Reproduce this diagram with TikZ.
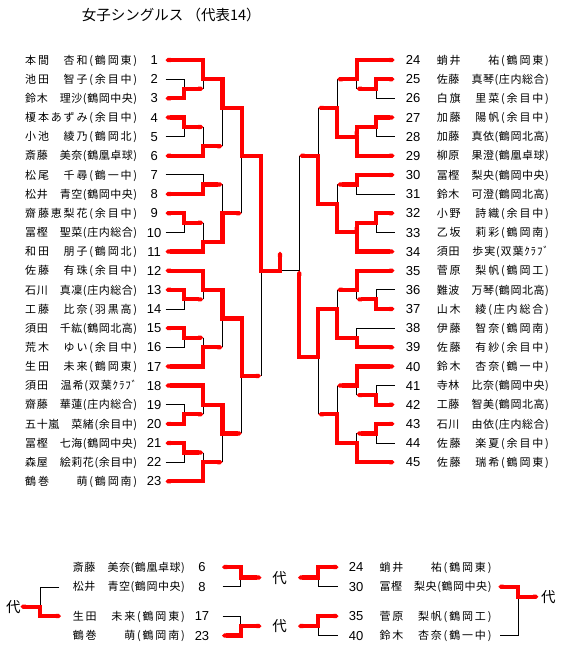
\documentclass[tikz,border=0pt]{standalone}
\usepackage{fontspec}
\usetikzlibrary{arrows.meta}
\newfontfamily\jpf{Noto Sans CJK JP}
\newfontfamily\numf{Liberation Sans}
\newcommand\distr[1]{\makebox[112pt][s]{\expandafter\distrA#1\relax}}
\def\distrA#1{#1\distrB}
\def\distrB#1{\ifx\relax#1\else\hfil#1\expandafter\distrB\fi}
\def\qLz{165.5}\def\qLa{184.3}\def\qLb{203.3}\def\qLc{222.5}\def\qLd{241.7}\def\qLe{261}\def\qLf{280}
\def\qRz{394.5}\def\qRa{376.3}\def\qRb{356.7}\def\qRc{337.3}\def\qRd{318.3}\def\qRe{299.3}
\tikzset{
 rd/.style={draw=red, line width=4.2pt, line join=miter, {Triangle Cap[]}-{Triangle Cap[]}},
 tn/.style={draw=black, line width=0.9pt},
 nm/.style={anchor=west, inner sep=0pt, text height=9.7pt, text depth=1.3pt, font=\jpf\fontsize{11pt}{13pt}\selectfont},
 nb/.style={anchor=center, inner sep=0pt, text height=9.3pt, text depth=0pt, font=\numf\fontsize{13pt}{15pt}\selectfont},
 dai/.style={anchor=center, inner sep=0pt, text height=12.8pt, text depth=1.7pt, font=\jpf\fontsize{14.5pt}{16pt}\selectfont},
}
\begin{document}
\begin{tikzpicture}[x=1pt,y=-1pt]
\fill[white] (0,0) rectangle (563,651);
\useasboundingbox (0,0) rectangle (563,651);
\node[dai, anchor=west] (title) at (81.7,15) {女子シングルス （代表14）};
\begin{scope}[y=-19.15pt, yshift=-40.85pt]
\foreach \r/\namestr in {1/{本間　杏和(鶴岡東)},2/{池田　智子(余目中)},3/{鈴木　理沙(鶴岡中央)},4/{榎本あずみ(余目中)},5/{小池　綾乃(鶴岡北)},6/{斎藤　美奈(鶴凰卓球)},7/{松尾　千尋(鶴一中)},8/{松井　青空(鶴岡中央)},9/{齋藤恵梨花(余目中)},10/{冨樫　聖菜(庄内総合)},11/{和田　朋子(鶴岡北)},12/{佐藤　有珠(余目中)},13/{石川　真凜(庄内総合)},14/{工藤　比奈(羽黒高)},15/{須田　千紘(鶴岡北高)},16/{荒木　ゆい(余目中)},17/{生田　未来(鶴岡東)},18/{須田　温希(双葉ｸﾗﾌﾞ},19/{齋藤　華蓮(庄内総合)},20/{五十嵐　菜緒(余目中)},21/{冨樫　七海(鶴岡中央)},22/{森屋　絵莉花(余目中)},23/{鶴巻　　萌(鶴岡南)}}{
 \node[nm] (nL\r) at (25,\r) {\distr{\namestr}};
 \node[nb] (kL\r) at (154.2,\r) {\r};
}
\foreach \r/\k/\namestr in {1/24/{蛸井　　祐(鶴岡東)},2/25/{佐藤　真琴(庄内総合)},3/26/{白旗　里菜(余目中)},4/27/{加藤　陽帆(余目中)},5/28/{加藤　真依(鶴岡北高)},6/29/{柳原　果澄(鶴凰卓球)},7/30/{冨樫　梨央(鶴岡中央)},8/31/{鈴木　可澄(鶴岡北高)},9/32/{小野　詩織(余目中)},10/33/{乙坂　莉彩(鶴岡南)},11/34/{須田　歩実(双葉ｸﾗﾌﾞ},12/35/{菅原　梨帆(鶴岡工)},13/36/{難波　万琴(鶴岡北高)},14/37/{山木　綾(庄内総合)},15/38/{伊藤　智奈(鶴岡南)},16/39/{佐藤　有紗(余目中)},17/40/{鈴木　杏奈(鶴一中)},18/41/{寺林　比奈(鶴岡中央)},19/42/{工藤　智美(鶴岡北高)},20/43/{石川　由依(庄内総合)},21/44/{佐藤　楽夏(余目中)},22/45/{佐藤　瑞希(鶴岡東)}}{
 \node[nm] (nR\k) at (436.7,\r) {\distr{\namestr}};
 \node[nb] (kR\k) at (413,\r) {\k};
}
% left thin
\draw[tn] (\qLz,2)--(\qLa,2)--(\qLa,2.5);
\draw[tn] (\qLb,2.5)--(\qLb,2);
\draw[tn] (\qLz,5)--(\qLa,5)--(\qLa,4.5);
\draw[tn] (\qLb,4.5)--(\qLb,5.5);
\draw[tn] (\qLc,5.5)--(\qLc,3.5);
\draw[tn] (\qLz,7)--(\qLb,7)--(\qLb,7.5);
\draw[tn] (\qLc,7.5)--(\qLc,9);
\draw[tn] (\qLz,10)--(\qLa,10)--(\qLa,9.5);
\draw[tn] (\qLb,9.5)--(\qLb,10.5);
\draw[tn] (\qLd,9)--(\qLd,6);
\draw[tn] (\qLz,14)--(\qLa,14)--(\qLa,13.5);
\draw[tn] (\qLb,13.5)--(\qLb,13);
\draw[tn] (\qLz,16)--(\qLa,16)--(\qLa,15.5);
\draw[tn] (\qLb,15.5)--(\qLb,16);
\draw[tn] (\qLc,16)--(\qLc,14.5);
\draw[tn] (\qLz,19)--(\qLa,19)--(\qLa,19.5);
\draw[tn] (\qLb,19.5)--(\qLb,19);
\draw[tn] (\qLz,22)--(\qLa,22)--(\qLa,21.5);
\draw[tn] (\qLb,21.5)--(\qLb,22);
\draw[tn] (\qLc,22)--(\qLc,20.5);
\draw[tn] (\qLd,20.5)--(\qLd,17.5);
\draw[tn] (\qLe,17.5)--(\qLe,12);
\draw[tn] (\qLf,12)--(\qRe,12);
% right thin
\draw[tn] (\qRz,3)--(\qRa,3)--(\qRa,2.5);
\draw[tn] (\qRb,2.5)--(\qRb,2);
\draw[tn] (\qRc,2)--(\qRc,3.5);
\draw[tn] (\qRz,5)--(\qRa,5)--(\qRa,4.5);
\draw[tn] (\qRd,3.5)--(\qRd,6);
\draw[tn] (\qRz,8)--(\qRb,8)--(\qRb,7.5);
\draw[tn] (\qRc,7.5)--(\qRc,8.5);
\draw[tn] (\qRz,10)--(\qRa,10)--(\qRa,9.5);
\draw[tn] (\qRe,6)--(\qRe,12);
\draw[tn] (\qRz,13)--(\qRa,13)--(\qRa,13.5);
\draw[tn] (\qRb,13.5)--(\qRb,13);
\draw[tn] (\qRc,13)--(\qRc,14);
\draw[tn] (\qRz,15)--(\qRb,15)--(\qRb,15.5);
\draw[tn] (\qRz,18)--(\qRa,18)--(\qRa,18.5);
\draw[tn] (\qRb,18.5)--(\qRb,18);
\draw[tn] (\qRc,18)--(\qRc,19.5);
\draw[tn] (\qRz,21)--(\qRa,21)--(\qRa,20.5);
\draw[tn] (\qRb,20.5)--(\qRb,21);
\draw[tn] (\qRd,19.5)--(\qRd,16.5);
% left red
\draw[rd] (\qLz,1)--(\qLb,1)--(\qLb,2)--(\qLc,2)--(\qLc,3.5)--(\qLd,3.5)--(\qLd,6)--(\qLe,6)--(\qLe,12)--(\qLf,12)--(\qLf,11);
\draw[rd] (\qLz,3)--(\qLa,3)--(\qLa,2.5)--(\qLb,2.5);
\draw[rd] (\qLz,4)--(\qLa,4)--(\qLa,4.5)--(\qLb,4.5);
\draw[rd] (\qLz,6)--(\qLb,6)--(\qLb,5.5)--(\qLc,5.5);
\draw[rd] (\qLz,8)--(\qLb,8)--(\qLb,7.5)--(\qLc,7.5);
\draw[rd] (\qLz,9)--(\qLa,9)--(\qLa,9.5)--(\qLb,9.5);
\draw[rd] (\qLz,11)--(\qLb,11)--(\qLb,10.5)--(\qLc,10.5)--(\qLc,9)--(\qLd,9);
\draw[rd] (\qLz,12)--(\qLb,12)--(\qLb,13)--(\qLc,13)--(\qLc,14.5)--(\qLd,14.5)--(\qLd,17.5)--(\qLe,17.5);
\draw[rd] (\qLz,13)--(\qLa,13)--(\qLa,13.5)--(\qLb,13.5);
\draw[rd] (\qLz,15)--(\qLa,15)--(\qLa,15.5)--(\qLb,15.5);
\draw[rd] (\qLz,17)--(\qLb,17)--(\qLb,16)--(\qLc,16);
\draw[rd] (\qLz,18)--(\qLb,18)--(\qLb,19)--(\qLc,19)--(\qLc,20.5)--(\qLd,20.5);
\draw[rd] (\qLz,20)--(\qLa,20)--(\qLa,19.5)--(\qLb,19.5);
\draw[rd] (\qLz,21)--(\qLa,21)--(\qLa,21.5)--(\qLb,21.5);
\draw[rd] (\qLz,23)--(\qLb,23)--(\qLb,22)--(\qLc,22);
% right red
\draw[rd] (\qRz,1)--(\qRb,1)--(\qRb,2)--(\qRc,2);
\draw[rd] (\qRz,2)--(\qRa,2)--(\qRa,2.5)--(\qRb,2.5);
\draw[rd] (\qRz,4)--(\qRa,4)--(\qRa,4.5)--(\qRb,4.5)--(\qRb,5);
\draw[rd] (\qRz,6)--(\qRb,6)--(\qRb,5)--(\qRc,5)--(\qRc,3.5)--(\qRd,3.5);
\draw[rd] (\qRz,7)--(\qRb,7)--(\qRb,7.5)--(\qRc,7.5);
\draw[rd] (\qRz,9)--(\qRa,9)--(\qRa,9.5)--(\qRb,9.5)--(\qRb,10);
\draw[rd] (\qRz,11)--(\qRb,11)--(\qRb,10)--(\qRc,10)--(\qRc,8.5)--(\qRd,8.5)--(\qRd,6)--(\qRe,6);
\draw[rd] (\qRz,12)--(\qRb,12)--(\qRb,13)--(\qRc,13);
\draw[rd] (\qRz,14)--(\qRa,14)--(\qRa,13.5)--(\qRb,13.5);
\draw[rd] (\qRz,16)--(\qRb,16)--(\qRb,15.5)--(\qRc,15.5)--(\qRc,14)--(\qRd,14)--(\qRd,16.5)--(\qRe,16.5)--(\qRe,12);
\draw[rd] (\qRz,17)--(\qRb,17)--(\qRb,18)--(\qRc,18);
\draw[rd] (\qRz,19)--(\qRa,19)--(\qRa,18.5)--(\qRb,18.5);
\draw[rd] (\qRz,20)--(\qRa,20)--(\qRa,20.5)--(\qRb,20.5);
\draw[rd] (\qRz,22)--(\qRb,22)--(\qRb,21)--(\qRc,21)--(\qRc,19.5)--(\qRd,19.5);
\end{scope}
% bottom section
\foreach \yy/\k/\namestr in {567/6/{斎藤　美奈(鶴凰卓球)},586.7/8/{松井　青空(鶴岡中央)},616/17/{生田　未来(鶴岡東)},635.5/23/{鶴巻　　萌(鶴岡南)}}{
 \node[nm] (bL\k) at (72.7,\yy) {\distr{\namestr}};
 \node[nb] (bkL\k) at (202,\yy) {\k};
}
\foreach \yy/\k/\namestr in {567/24/{蛸井　　祐(鶴岡東)},586.7/30/{冨樫　梨央(鶴岡中央)},616/35/{菅原　梨帆(鶴岡工)},635.5/40/{鈴木　杏奈(鶴一中)}}{
 \node[nm] (bR\k) at (379.3,\yy) {\distr{\namestr}};
 \node[nb] (bkR\k) at (356,\yy) {\k};
}
\node[dai] (d1) at (13.3,606.7) {代};
\node[dai] (d2) at (279.7,577.5) {代};
\node[dai] (d3) at (279.7,625.8) {代};
\node[dai] (d4) at (548.3,596.7) {代};
\draw[tn] (59.3,587.5)--(40,587.5)--(40,606.7);
\draw[tn] (222.7,586.7)--(240.7,586.7)--(240.7,577.5);
\draw[tn] (222.7,616)--(240.7,616)--(240.7,626);
\draw[tn] (318.3,577.5)--(318.3,586.7)--(338.3,586.7);
\draw[tn] (318.3,626)--(318.3,635.5)--(338.3,635.5);
\draw[tn] (500,635.5)--(518.3,635.5)--(518.3,596.7);
\draw[rd] (61,616)--(40,616)--(40,606.7)--(20.5,606.7);
\draw[rd] (222,567)--(240.7,567)--(240.7,577.5)--(261.5,577.5);
\draw[rd] (222,635.5)--(240.7,635.5)--(240.7,626)--(261.5,626);
\draw[rd] (298,577.5)--(318.3,577.5)--(318.3,567)--(338.5,567);
\draw[rd] (298,626)--(318.3,626)--(318.3,616)--(338.5,616);
\draw[rd] (498.3,586.7)--(518.3,586.7)--(518.3,596.7)--(538.3,596.7);
\end{tikzpicture}
\end{document}
